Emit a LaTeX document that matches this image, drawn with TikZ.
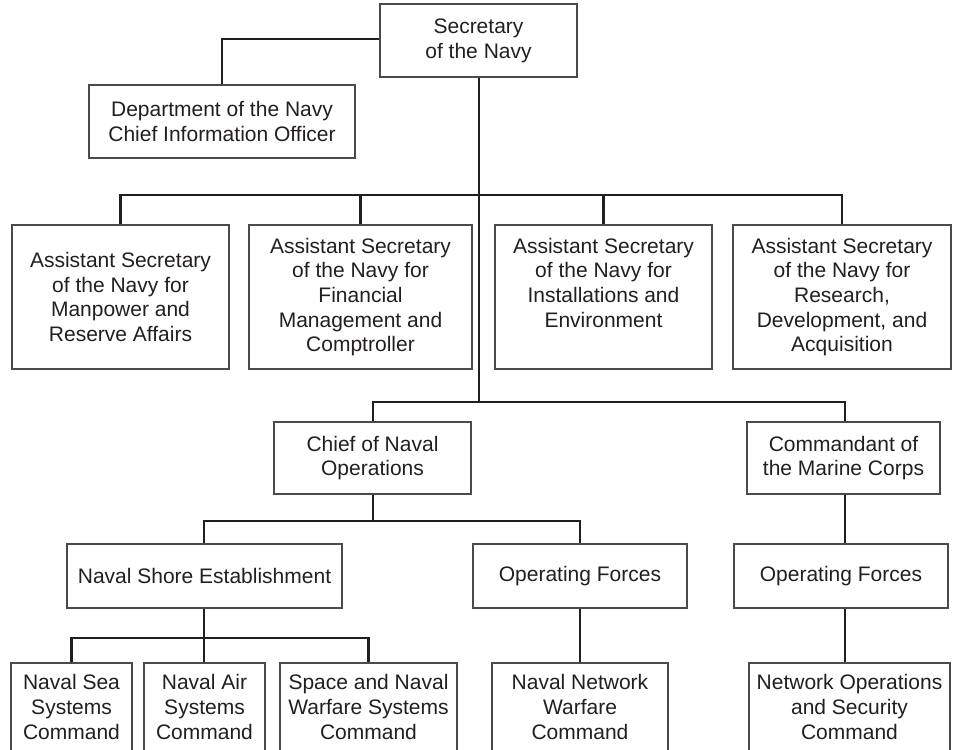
\documentclass[tikz,border=0pt]{standalone}
\usepackage{fontspec}
\setmainfont{Liberation Sans}
\definecolor{ink}{HTML}{231F20}
\definecolor{boxline}{HTML}{4A4A4A}
\begin{document}
\begin{tikzpicture}[x=1pt,y=-1pt,
  orgbox/.style={draw=boxline, line width=1.3pt, fill=white, align=center, inner sep=0pt,
    text=ink, font=\fontsize{21}{24.7}\selectfont},
  conn/.style={draw=ink, line width=2.8pt, line join=miter}]
\useasboundingbox (0,0) rectangle (959,750);
% helper: box from (x1,y1) to (x2,y2)
\newcommand{\orgnode}[6]{%
  \node[orgbox, minimum width={#4-#2}, minimum height={#5-#3}] (#1) at ({(#2+#4)/2},{(#3+#5)/2}) {#6};}
\orgnode{sec}{380}{4}{577}{77}{Secretary\\of the Navy}
\orgnode{cio}{89}{85}{355}{158}{Department of the Navy\\Chief Information Officer}
\orgnode{a1}{12}{225}{229}{369}{Assistant Secretary\\of the Navy for\\Manpower and\\Reserve Affairs}
\orgnode{a2}{249}{225}{472}{369}{Assistant Secretary\\of the Navy for\\Financial\\Management and\\Comptroller}
\orgnode{a3}{495}{225}{712}{369}{Assistant Secretary\\of the Navy for\\Installations and\\Environment\\\phantom{Comptroller}}
\orgnode{a4}{733}{225}{951}{369}{Assistant Secretary\\of the Navy for\\Research,\\Development, and\\Acquisition}
\orgnode{cno}{274}{422}{471}{494}{Chief of Naval\\Operations}
\orgnode{cmc}{747}{422}{940}{494}{Commandant of\\the Marine Corps}
\orgnode{nse}{67}{544}{342}{608}{Naval Shore Establishment}
\orgnode{of1}{473}{544}{687}{608}{Operating Forces}
\orgnode{of2}{734}{544}{948}{608}{Operating Forces}
\orgnode{sea}{11}{663}{132}{751}{Naval Sea\\Systems\\Command}
\orgnode{air}{144}{663}{265}{751}{Naval Air\\Systems\\Command}
\orgnode{spc}{280}{663}{457}{751}{Space and Naval\\Warfare Systems\\Command}
\orgnode{nnw}{492}{663}{668}{751}{Naval Network\\Warfare\\Command}
\orgnode{nos}{749}{663}{950}{751}{Network Operations\\and Security\\Command}
% junction coordinates
\coordinate (jcio) at (221,39);
\coordinate (j1) at (479,195);
\coordinate (j2) at (479,402);
\coordinate (j3) at (373,521);
\coordinate (j4) at (204,638);
\coordinate (jm) at (845,402);
% connectors
\draw[conn] (sec.west |- jcio) -| (cio.north);
\draw[conn] (j2 |- sec.south) -- (j2);
\draw[conn] (a1.north) |- (j1) -| (a4.north);
\draw[conn] (a2.north) -- (a2.north |- j1);
\draw[conn] (a3.north) -- (a3.north |- j1);
\draw[conn] (j3 |- cno.north) |- (j2) -| (jm |- cmc.north);
\draw[conn] (j3 |- cno.south) -- (j3);
\draw[conn] (j4 |- nse.north) |- (j3) -| (of1.north);
\draw[conn] (j4 |- nse.south) -- (j4);
\draw[conn] (sea.north) |- (j4) -| (spc.north);
\draw[conn] (j4 |- air.north) -- (j4);
\draw[conn] (of1.south) -- (nnw.north -| of1.south);
\draw[conn] (jm |- cmc.south) -- (jm |- of2.north);
\draw[conn] (jm |- of2.south) -- (jm |- nos.north);
\end{tikzpicture}
\end{document}
